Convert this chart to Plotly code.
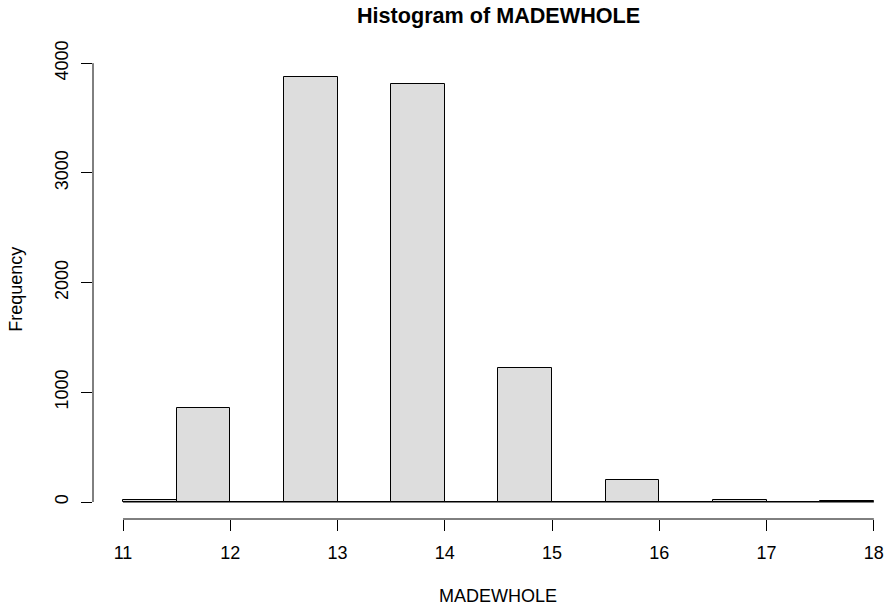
import plotly.graph_objects as go

# Histogram data (bin width 0.5 from 11 to 18)
bin_edges = [11.0, 11.5, 12.0, 12.5, 13.0, 13.5, 14.0, 14.5, 15.0, 15.5, 16.0, 16.5, 17.0, 17.5, 18.0]
counts = [15, 857, 0, 3874, 0, 3810, 0, 1222, 0, 198, 0, 20, 0, 5]
x_ticks = [11, 12, 13, 14, 15, 16, 17, 18]
y_ticks = [0, 1000, 2000, 3000, 4000]

centers = [(a + b) / 2 for a, b in zip(bin_edges[:-1], bin_edges[1:])]
widths = [b - a for a, b in zip(bin_edges[:-1], bin_edges[1:])]

FONT = "Liberation Sans, Arial, Helvetica, sans-serif"
W, H = 890, 608
L_PX, T_PX, B_PX = 92.7, 59.7, 518.7
PX_PER_UNIT = 107.3

xmin = bin_edges[0] - 0.04 * (bin_edges[-1] - bin_edges[0])
xmax = xmin + (W - L_PX) / PX_PER_UNIT
full_xmax = bin_edges[-1] + 0.04 * (bin_edges[-1] - bin_edges[0])
ymax_c = max(counts)
ylo = -0.04 * ymax_c
yhi = ymax_c * 1.04

title_center_px = L_PX + (full_xmax - xmin) * PX_PER_UNIT / 2
PW, PH = W - L_PX, B_PX - T_PX

fig = go.Figure()
fig.add_trace(go.Bar(
    x=centers, y=counts, width=widths,
    marker=dict(color="#dddddd", line=dict(color="#000000", width=1)),
    hoverinfo="x+y", showlegend=False,
))
# zero-height bins drawn as baseline
fig.add_trace(go.Scatter(
    x=[bin_edges[0], bin_edges[-1]], y=[0, 0], mode="lines",
    line=dict(color="#000000", width=1), hoverinfo="skip", showlegend=False,
))

# R-style axis lines spanning the tick range only
fig.add_shape(type="line", xref="x", yref="paper", x0=x_ticks[0], x1=x_ticks[-1], y0=0, y1=0,
              line=dict(color="black", width=1))
fig.add_shape(type="line", xref="paper", yref="y", x0=0, x1=0, y0=y_ticks[0], y1=y_ticks[-1],
              line=dict(color="black", width=1))

fig.add_annotation(text="<b>Histogram of MADEWHOLE</b>", xref="paper", yref="paper",
                   x=(title_center_px - L_PX) / PW, y=1 + (T_PX - 15) / PH,
                   xanchor="center", yanchor="middle", showarrow=False,
                   font=dict(family=FONT, size=21.6, color="black"))
fig.add_annotation(text="MADEWHOLE", xref="paper", yref="paper",
                   x=(title_center_px - L_PX) / PW, y=-(596 - B_PX) / PH,
                   xanchor="center", yanchor="middle", showarrow=False,
                   font=dict(family=FONT, size=18, color="black"))
fig.add_annotation(text="Frequency", xref="paper", yref="paper",
                   x=-(L_PX - 15) / PW, y=0.5, textangle=-90,
                   xanchor="center", yanchor="middle", showarrow=False,
                   font=dict(family=FONT, size=18, color="black"))

fig.update_layout(
    width=W, height=H,
    margin=dict(l=L_PX, r=0, t=T_PX, b=H - B_PX, pad=0, autoexpand=False),
    plot_bgcolor="white", paper_bgcolor="white",
    bargap=0,
    font=dict(family=FONT, size=18, color="black"),
    xaxis=dict(range=[xmin, xmax], tickvals=x_ticks, ticktext=[str(v) for v in x_ticks],
               showgrid=False, zeroline=False, showline=False, automargin=False,
               ticks="outside", ticklen=11, tickcolor="black", tickwidth=1,
               ticklabelstandoff=6),
    yaxis=dict(range=[ylo, yhi], tickvals=y_ticks, ticktext=[str(v) for v in y_ticks],
               showgrid=False, zeroline=False, showline=False, automargin=False,
               ticks="outside", ticklen=11, tickcolor="black", tickwidth=1,
               tickangle=-90, ticklabelstandoff=6),
)

fig.write_html("out.html",
               config={"displayModeBar": False},
               post_script="document.body.style.margin='0';document.body.style.overflow='hidden';")
